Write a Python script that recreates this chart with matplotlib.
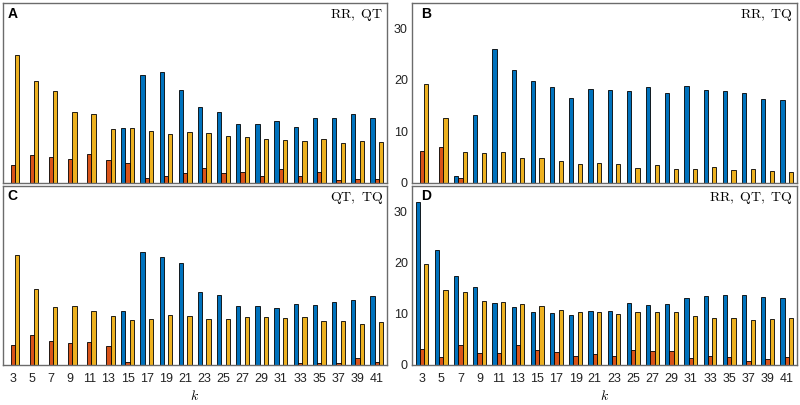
import matplotlib
matplotlib.use('Agg')
from matplotlib import pyplot as plt

# k values on the x axis
k = list(range(3, 43, 2))

# panel A: RR, QT
a_blue = [0, 0, 0, 0, 0, 0, 10.7, 21.0, 21.6, 18.1, 14.8, 13.7, 11.5, 11.5, 12.0, 10.8, 12.5, 12.5, 13.3, 12.5]
a_red = [3.5, 5.4, 5.0, 4.6, 5.5, 4.5, 3.8, 1.0, 1.3, 1.8, 2.9, 1.8, 2.1, 1.2, 2.7, 1.2, 2.0, 0.5, 0.8, 0.8]
a_yellow = [24.8, 19.8, 17.9, 13.7, 13.3, 10.5, 10.7, 10.1, 9.5, 9.9, 9.7, 9.1, 8.8, 8.6, 8.4, 8.2, 8.6, 7.8, 8.2, 8.0]

# panel B: RR, TQ
b_blue = [0, 0, 1.2, 13.1, 26.1, 22.0, 19.9, 18.6, 16.5, 18.3, 18.1, 17.8, 18.6, 17.4, 18.9, 18.0, 17.8, 17.4, 16.3, 16.1]
b_red = [6.2, 6.9, 0.85, 0, 0, 0, 0, 0, 0, 0, 0, 0, 0, 0, 0, 0, 0, 0, 0, 0]
b_yellow = [19.2, 12.5, 6.0, 5.8, 6.0, 4.8, 4.9, 4.2, 3.6, 3.9, 3.7, 2.9, 3.5, 2.7, 2.7, 3.0, 2.5, 2.7, 2.3, 2.0]

# panel C: QT, TQ
c_blue = [0, 0, 0, 0, 0, 0, 10.6, 22.1, 21.1, 19.9, 14.2, 13.6, 11.6, 11.5, 11.05, 12.0, 11.8, 12.4, 12.7, 13.5]
c_red = [3.9, 5.8, 4.7, 4.3, 4.4, 3.75, 0.6, 0, 0, 0, 0, 0, 0, 0, 0, 0.45, 0.3, 0.4, 1.4, 0.6]
c_yellow = [21.4, 14.8, 11.25, 11.6, 10.5, 9.5, 8.7, 8.9, 9.7, 9.5, 8.9, 8.9, 9.4, 9.4, 9.1, 9.3, 8.55, 8.5, 8.0, 8.4]

# panel D: RR, QT, TQ
d_blue = [31.8, 22.4, 17.3, 15.3, 12.1, 11.25, 10.3, 10.1, 9.7, 10.5, 10.5, 12.1, 11.8, 12.0, 13.0, 13.4, 13.6, 13.7, 13.2, 13.0]
d_red = [3.1, 1.6, 3.9, 2.4, 2.4, 3.9, 3.0, 2.6, 1.8, 2.1, 1.8, 2.9, 2.8, 2.8, 1.45, 1.8, 1.6, 0.85, 1.1, 1.6]
d_yellow = [19.7, 14.6, 14.2, 12.6, 12.4, 12.0, 11.5, 10.7, 10.3, 10.3, 10.0, 10.4, 10.3, 10.4, 9.5, 9.1, 9.2, 8.7, 8.9, 9.1]

panels = [
    ('A', 'RR,\\ QT', a_blue, a_red, a_yellow),
    ('B', 'RR,\\ TQ', b_blue, b_red, b_yellow),
    ('C', 'QT,\\ TQ', c_blue, c_red, c_yellow),
    ('D', 'RR,\\ QT,\\ TQ', d_blue, d_red, d_yellow),
]

plt.rcParams['mathtext.fontset'] = 'cm'
plt.rcParams['font.family'] = ['Liberation Sans', 'DejaVu Sans']

fig = plt.figure(figsize=(8, 4.05), dpi=100)
# axes boxes [left, bottom, width, height] in figure fractions
boxes = [
    [0.0034, 0.549, 0.480, 0.4436],
    [0.515, 0.549, 0.481, 0.4436],
    [0.0034, 0.0988, 0.480, 0.4422],
    [0.515, 0.0988, 0.481, 0.4422],
]

w = 0.45
colors = ['#0072BD', '#D95319', '#EDB120']
for i, (lab, title, blue, red, yellow) in enumerate(panels):
    ax = fig.add_axes(boxes[i])
    xb = [x - w for x in k]
    xy = [x + w for x in k]
    ax.bar(xb, blue, width=w, color=colors[0], edgecolor='black', linewidth=0.6)
    ax.bar(k, red, width=w, color=colors[1], edgecolor='black', linewidth=0.6)
    ax.bar(xy, yellow, width=w, color=colors[2], edgecolor='black', linewidth=0.6)
    ax.set_xlim(1.96, 42.04)
    ax.set_ylim(0, 35)
    ax.set_xticks(k)
    ax.set_yticks([0, 10, 20, 30])
    ax.tick_params(axis='x', length=0, labelsize=9, pad=6, colors='#222222')
    ax.tick_params(axis='y', length=0, labelsize=9, pad=3, colors='#222222')
    for s in ax.spines.values():
        s.set_color('#6b6b6b')
        s.set_linewidth(1.0)
    if i < 2:
        ax.set_xticklabels([])
    else:
        ax.set_xlabel('$k$', fontsize=10, labelpad=3)
    if i % 2 == 0:
        ax.set_yticklabels([])
        lx = 0.012
    else:
        lx = 0.0225
    ax.text(lx, 0.98, lab, transform=ax.transAxes, fontsize=10, fontweight='bold',
            ha='left', va='top')
    ax.text(0.99, 0.975, '$\\mathrm{' + title + '}$', transform=ax.transAxes, fontsize=10,
            ha='right', va='top')

plt.savefig('out.png', dpi=100)
